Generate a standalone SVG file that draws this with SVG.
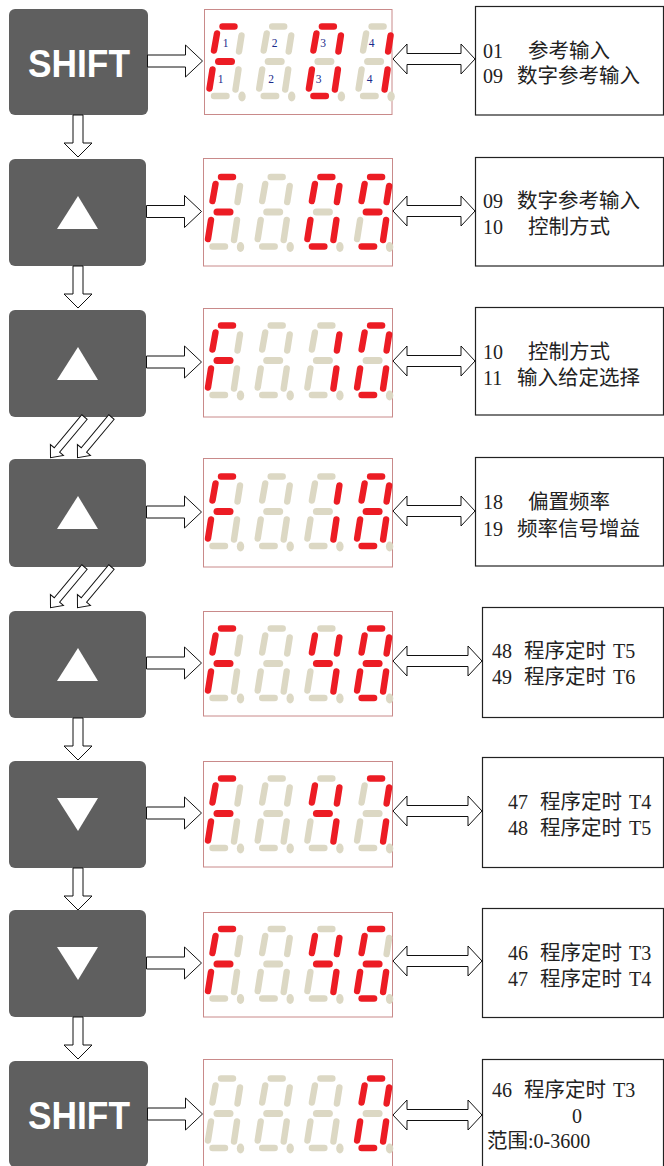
<svg xmlns="http://www.w3.org/2000/svg" xmlns:xlink="http://www.w3.org/1999/xlink" width="664" height="1166" viewBox="0 0 664 1166">
<style>
.btn{fill:#5f5f5f}
.tri{fill:#ffffff}
.shift{fill:#ffffff;font-family:"Liberation Sans",Arial,sans-serif;font-weight:bold;font-size:38px}
.disp{fill:#ffffff;stroke:#c98a8a;stroke-width:1}
.on{stroke:#ec1c24}
.off{stroke:#dcd8c4}
.dp{fill:#dcd8c4}
.seg{stroke-width:6.4;stroke-linecap:round;fill:none}
.segm{stroke-width:7;stroke-linecap:round;fill:none}
.idx{fill:#1a2a8a;font-family:"Liberation Serif",serif;font-size:11.5px;text-anchor:middle}
.box{fill:#ffffff;stroke:#222222;stroke-width:1.2}
.txt{fill:#222222;font-family:"Liberation Serif","Noto Sans CJK SC",serif;font-size:20px}
.cjk{font-family:"Liberation Serif","Noto Sans CJK SC",serif;font-size:20.5px}
.arr{fill:#ffffff;stroke:#111111;stroke-width:1}
</style>
<defs>
<path id="rarr" d="M0,-6 H38 V-16 L55,0 L38,16 V6 H0 Z"/>
<path id="darr" d="M-5,0 V28 H-14 L0,42 L14,28 H5 V0 Z"/>
<path id="diag" d="M0,-3.5 H43 V-8.5 L53,0 L43,8.5 V3.5 H0 Z"/>
<path id="dbl82" d="M0,0 L14,-15 V-5.5 H68 V-15 L82,0 L68,15 V5.5 H14 V15 Z"/>
<path id="dbl89" d="M0,0 L14,-15 V-5.5 H75 V-15 L89,0 L75,15 V5.5 H14 V15 Z"/>
<g id="dF"><line class="seg on" x1="21" y1="0" x2="33" y2="0"/><line class="seg on" x1="15.5" y1="7" x2="12.5" y2="24"/><line class="seg off" x1="40" y1="9" x2="37.5" y2="25"/><line class="segm on" x1="17" y1="35" x2="30" y2="35"/><line class="seg on" x1="11" y1="43" x2="8" y2="62"/><line class="seg off" x1="37" y1="43" x2="34" y2="63"/><line class="seg off" x1="12.5" y1="69.5" x2="25" y2="69.5"/><ellipse class="dp" cx="40.5" cy="70" rx="3.7" ry="5"/></g>
<g id="dB"><line class="seg off" x1="21" y1="0" x2="33" y2="0"/><line class="seg off" x1="15.5" y1="7" x2="12.5" y2="24"/><line class="seg off" x1="40" y1="9" x2="37.5" y2="25"/><line class="segm off" x1="17" y1="35" x2="30" y2="35"/><line class="seg off" x1="11" y1="43" x2="8" y2="62"/><line class="seg off" x1="37" y1="43" x2="34" y2="63"/><line class="seg off" x1="12.5" y1="69.5" x2="25" y2="69.5"/><ellipse class="dp" cx="40.5" cy="70" rx="3.7" ry="5"/></g>
<g id="d0"><line class="seg on" x1="21" y1="0" x2="33" y2="0"/><line class="seg on" x1="15.5" y1="7" x2="12.5" y2="24"/><line class="seg on" x1="40" y1="9" x2="37.5" y2="25"/><line class="segm off" x1="17" y1="35" x2="30" y2="35"/><line class="seg on" x1="11" y1="43" x2="8" y2="62"/><line class="seg on" x1="37" y1="43" x2="34" y2="63"/><line class="seg on" x1="12.5" y1="69.5" x2="25" y2="69.5"/><ellipse class="dp" cx="40.5" cy="70" rx="3.7" ry="5"/></g>
<g id="d1"><line class="seg off" x1="21" y1="0" x2="33" y2="0"/><line class="seg off" x1="15.5" y1="7" x2="12.5" y2="24"/><line class="seg on" x1="40" y1="9" x2="37.5" y2="25"/><line class="segm off" x1="17" y1="35" x2="30" y2="35"/><line class="seg off" x1="11" y1="43" x2="8" y2="62"/><line class="seg on" x1="37" y1="43" x2="34" y2="63"/><line class="seg off" x1="12.5" y1="69.5" x2="25" y2="69.5"/><ellipse class="dp" cx="40.5" cy="70" rx="3.7" ry="5"/></g>
<g id="d9"><line class="seg on" x1="21" y1="0" x2="33" y2="0"/><line class="seg on" x1="15.5" y1="7" x2="12.5" y2="24"/><line class="seg on" x1="40" y1="9" x2="37.5" y2="25"/><line class="segm on" x1="17" y1="35" x2="30" y2="35"/><line class="seg off" x1="11" y1="43" x2="8" y2="62"/><line class="seg on" x1="37" y1="43" x2="34" y2="63"/><line class="seg on" x1="12.5" y1="69.5" x2="25" y2="69.5"/><ellipse class="dp" cx="40.5" cy="70" rx="3.7" ry="5"/></g>
<g id="d8"><line class="seg on" x1="21" y1="0" x2="33" y2="0"/><line class="seg on" x1="15.5" y1="7" x2="12.5" y2="24"/><line class="seg on" x1="40" y1="9" x2="37.5" y2="25"/><line class="segm on" x1="17" y1="35" x2="30" y2="35"/><line class="seg on" x1="11" y1="43" x2="8" y2="62"/><line class="seg on" x1="37" y1="43" x2="34" y2="63"/><line class="seg on" x1="12.5" y1="69.5" x2="25" y2="69.5"/><ellipse class="dp" cx="40.5" cy="70" rx="3.7" ry="5"/></g>
<g id="d4"><line class="seg off" x1="21" y1="0" x2="33" y2="0"/><line class="seg on" x1="15.5" y1="7" x2="12.5" y2="24"/><line class="seg on" x1="40" y1="9" x2="37.5" y2="25"/><line class="segm on" x1="17" y1="35" x2="30" y2="35"/><line class="seg off" x1="11" y1="43" x2="8" y2="62"/><line class="seg on" x1="37" y1="43" x2="34" y2="63"/><line class="seg off" x1="12.5" y1="69.5" x2="25" y2="69.5"/><ellipse class="dp" cx="40.5" cy="70" rx="3.7" ry="5"/></g>
<g id="d7"><line class="seg on" x1="21" y1="0" x2="33" y2="0"/><line class="seg off" x1="15.5" y1="7" x2="12.5" y2="24"/><line class="seg on" x1="40" y1="9" x2="37.5" y2="25"/><line class="segm off" x1="17" y1="35" x2="30" y2="35"/><line class="seg off" x1="11" y1="43" x2="8" y2="62"/><line class="seg on" x1="37" y1="43" x2="34" y2="63"/><line class="seg off" x1="12.5" y1="69.5" x2="25" y2="69.5"/><ellipse class="dp" cx="40.5" cy="70" rx="3.7" ry="5"/></g>
<g id="d6"><line class="seg on" x1="21" y1="0" x2="33" y2="0"/><line class="seg on" x1="15.5" y1="7" x2="12.5" y2="24"/><line class="seg off" x1="40" y1="9" x2="37.5" y2="25"/><line class="segm on" x1="17" y1="35" x2="30" y2="35"/><line class="seg on" x1="11" y1="43" x2="8" y2="62"/><line class="seg on" x1="37" y1="43" x2="34" y2="63"/><line class="seg on" x1="12.5" y1="69.5" x2="25" y2="69.5"/><ellipse class="dp" cx="40.5" cy="70" rx="3.7" ry="5"/></g>
</defs>

<!-- buttons -->
<g id="btn1"><rect class="btn" x="9" y="9" width="139" height="106" rx="6"/><text class="shift" x="79" y="77" text-anchor="middle" textLength="102" lengthAdjust="spacingAndGlyphs">SHIFT</text></g>
<g id="btn2"><rect class="btn" x="9" y="159" width="137" height="107" rx="6"/><polygon class="tri" points="78,196 98,229 57,229"/></g>
<g id="btn3"><rect class="btn" x="9" y="310" width="137" height="107" rx="6"/><polygon class="tri" points="78,347 98,380 57,380"/></g>
<g id="btn4"><rect class="btn" x="9" y="459" width="137" height="108" rx="6"/><polygon class="tri" points="78,496 98,529 57,529"/></g>
<g id="btn5"><rect class="btn" x="9" y="611" width="137" height="107" rx="6"/><polygon class="tri" points="78,648 98,681 57,681"/></g>
<g id="btn6"><rect class="btn" x="9" y="761" width="137" height="107" rx="6"/><polygon class="tri" points="57,798 98,798 78,831"/></g>
<g id="btn7"><rect class="btn" x="9" y="910" width="137" height="107" rx="6"/><polygon class="tri" points="57,947 98,947 78,980"/></g>
<g id="btn8"><rect class="btn" x="9" y="1061" width="139" height="106" rx="6"/><text class="shift" x="79" y="1129" text-anchor="middle" textLength="102" lengthAdjust="spacingAndGlyphs">SHIFT</text></g>

<!-- displays -->
<g id="disp1"><rect class="disp" x="204.5" y="9.5" width="187.5" height="105"/>
<g transform="translate(201.5,26.5)"><use href="#dF" xlink:href="#dF"/><use href="#dB" xlink:href="#dB" x="49.7"/><use href="#d0" xlink:href="#d0" x="99.4"/><use href="#d1" xlink:href="#d1" x="149.1"/></g>
<text class="idx" x="225.5" y="47">1</text><text class="idx" x="274.5" y="47">2</text><text class="idx" x="323" y="47">3</text><text class="idx" x="371.5" y="47">4</text>
<text class="idx" x="220.5" y="83">1</text><text class="idx" x="271" y="83">2</text><text class="idx" x="318.5" y="83">3</text><text class="idx" x="369.5" y="83">4</text>
</g>
<g id="disp2"><rect class="disp" x="203.5" y="158.5" width="189" height="107.5"/>
<g transform="translate(200,177)"><use href="#dF" xlink:href="#dF"/><use href="#dB" xlink:href="#dB" x="49.7"/><use href="#d0" xlink:href="#d0" x="99.4"/><use href="#d9" xlink:href="#d9" x="149.1"/></g></g>
<g id="disp3"><rect class="disp" x="203.5" y="308.5" width="189" height="108.5"/>
<g transform="translate(200,325.5)"><use href="#dF" xlink:href="#dF"/><use href="#dB" xlink:href="#dB" x="49.7"/><use href="#d1" xlink:href="#d1" x="99.4"/><use href="#d0" xlink:href="#d0" x="149.1"/></g></g>
<g id="disp4"><rect class="disp" x="203.5" y="458.5" width="189" height="108.5"/>
<g transform="translate(200,476.5)"><use href="#dF" xlink:href="#dF"/><use href="#dB" xlink:href="#dB" x="49.7"/><use href="#d1" xlink:href="#d1" x="99.4"/><use href="#d8" xlink:href="#d8" x="149.1"/></g></g>
<g id="disp5"><rect class="disp" x="203.5" y="611.5" width="189" height="104.5"/>
<g transform="translate(200,628.5)"><use href="#dF" xlink:href="#dF"/><use href="#dB" xlink:href="#dB" x="49.7"/><use href="#d4" xlink:href="#d4" x="99.4"/><use href="#d8" xlink:href="#d8" x="149.1"/></g></g>
<g id="disp6"><rect class="disp" x="203.5" y="761.5" width="189" height="105.5"/>
<g transform="translate(200,778.5)"><use href="#dF" xlink:href="#dF"/><use href="#dB" xlink:href="#dB" x="49.7"/><use href="#d4" xlink:href="#d4" x="99.4"/><use href="#d7" xlink:href="#d7" x="149.1"/></g></g>
<g id="disp7"><rect class="disp" x="203.5" y="912.5" width="189" height="104.5"/>
<g transform="translate(200,929)"><use href="#dF" xlink:href="#dF"/><use href="#dB" xlink:href="#dB" x="49.7"/><use href="#d4" xlink:href="#d4" x="99.4"/><use href="#d6" xlink:href="#d6" x="149.1"/></g></g>
<g id="disp8"><rect class="disp" x="203.5" y="1059.5" width="189" height="112"/>
<g transform="translate(200,1078.5)"><use href="#dB" xlink:href="#dB"/><use href="#dB" xlink:href="#dB" x="49.7"/><use href="#dB" xlink:href="#dB" x="99.4"/><use href="#d0" xlink:href="#d0" x="149.1"/></g></g>

<!-- text boxes -->
<g id="box1"><rect class="box" x="475.5" y="6.5" width="188" height="108.5"/>
<text class="txt"><tspan x="483" y="58">01</tspan><tspan class="cjk" x="528" y="58">参考输入</tspan><tspan x="483" y="83">09</tspan><tspan class="cjk" x="517" y="83">数字参考输入</tspan></text></g>
<g id="box2"><rect class="box" x="475.5" y="157.5" width="188" height="108.5"/>
<text class="txt"><tspan x="483" y="208">09</tspan><tspan class="cjk" x="517" y="208">数字参考输入</tspan><tspan x="483" y="234">10</tspan><tspan class="cjk" x="528" y="234">控制方式</tspan></text></g>
<g id="box3"><rect class="box" x="475.5" y="307.5" width="188" height="107.5"/>
<text class="txt"><tspan x="483" y="359">10</tspan><tspan class="cjk" x="528" y="359">控制方式</tspan><tspan x="483" y="385">11</tspan><tspan class="cjk" x="517" y="385">输入给定选择</tspan></text></g>
<g id="box4"><rect class="box" x="475.5" y="457.5" width="188" height="108.5"/>
<text class="txt"><tspan x="483" y="509">18</tspan><tspan class="cjk" x="528" y="509">偏置频率</tspan><tspan x="483" y="536">19</tspan><tspan class="cjk" x="517" y="536">频率信号增益</tspan></text></g>
<g id="box5"><rect class="box" x="482.5" y="607.5" width="181" height="110"/>
<text class="txt"><tspan x="492" y="658">48</tspan><tspan class="cjk" x="524" y="658">程序定时</tspan><tspan x="613" y="658">T5</tspan><tspan x="492" y="684">49</tspan><tspan class="cjk" x="524" y="684">程序定时</tspan><tspan x="613" y="684">T6</tspan></text></g>
<g id="box6"><rect class="box" x="482.5" y="757.5" width="181" height="110"/>
<text class="txt"><tspan x="508" y="809">47</tspan><tspan class="cjk" x="540" y="809">程序定时</tspan><tspan x="629" y="809">T4</tspan><tspan x="508" y="835">48</tspan><tspan class="cjk" x="540" y="835">程序定时</tspan><tspan x="629" y="835">T5</tspan></text></g>
<g id="box7"><rect class="box" x="482.5" y="908.5" width="181" height="109"/>
<text class="txt"><tspan x="508" y="960">46</tspan><tspan class="cjk" x="540" y="960">程序定时</tspan><tspan x="629" y="960">T3</tspan><tspan x="508" y="986">47</tspan><tspan class="cjk" x="540" y="986">程序定时</tspan><tspan x="629" y="986">T4</tspan></text></g>
<g id="box8"><rect class="box" x="482.5" y="1059.5" width="181" height="112"/>
<text class="txt"><tspan x="492" y="1097">46</tspan><tspan class="cjk" x="524" y="1097">程序定时</tspan><tspan x="613" y="1097">T3</tspan><tspan x="572" y="1123">0</tspan><tspan class="cjk" x="487" y="1148">范围</tspan><tspan>:0-3600</tspan></text></g>

<!-- connectors -->
<g id="connectors" class="arr">
<use href="#rarr" xlink:href="#rarr" transform="translate(147.5,61)"/>
<use href="#rarr" xlink:href="#rarr" transform="translate(146.5,211.5)"/>
<use href="#rarr" xlink:href="#rarr" transform="translate(146.5,362)"/>
<use href="#rarr" xlink:href="#rarr" transform="translate(146.5,512)"/>
<use href="#rarr" xlink:href="#rarr" transform="translate(146.5,663)"/>
<use href="#rarr" xlink:href="#rarr" transform="translate(146.5,813)"/>
<use href="#rarr" xlink:href="#rarr" transform="translate(146.5,963)"/>
<use href="#rarr" xlink:href="#rarr" transform="translate(147.5,1114)"/>
<use href="#darr" xlink:href="#darr" transform="translate(78,115)"/>
<use href="#darr" xlink:href="#darr" transform="translate(78,266)"/>
<use href="#darr" xlink:href="#darr" transform="translate(78,718)"/>
<use href="#darr" xlink:href="#darr" transform="translate(78,868)"/>
<use href="#darr" xlink:href="#darr" transform="translate(78,1017)"/>
<use href="#diag" xlink:href="#diag" transform="translate(84.5,417) rotate(129.9)"/>
<use href="#diag" xlink:href="#diag" transform="translate(111.5,417) rotate(129.9)"/>
<use href="#diag" xlink:href="#diag" transform="translate(84.5,567) rotate(129.9)"/>
<use href="#diag" xlink:href="#diag" transform="translate(111.5,567) rotate(129.9)"/>
<use href="#dbl82" xlink:href="#dbl82" transform="translate(393,59)"/>
<use href="#dbl82" xlink:href="#dbl82" transform="translate(393,211)"/>
<use href="#dbl82" xlink:href="#dbl82" transform="translate(393,361)"/>
<use href="#dbl82" xlink:href="#dbl82" transform="translate(393,511)"/>
<use href="#dbl89" xlink:href="#dbl89" transform="translate(393,661)"/>
<use href="#dbl89" xlink:href="#dbl89" transform="translate(393,811)"/>
<use href="#dbl89" xlink:href="#dbl89" transform="translate(393,961)"/>
<use href="#dbl89" xlink:href="#dbl89" transform="translate(393,1115)"/>
</g>
</svg>
